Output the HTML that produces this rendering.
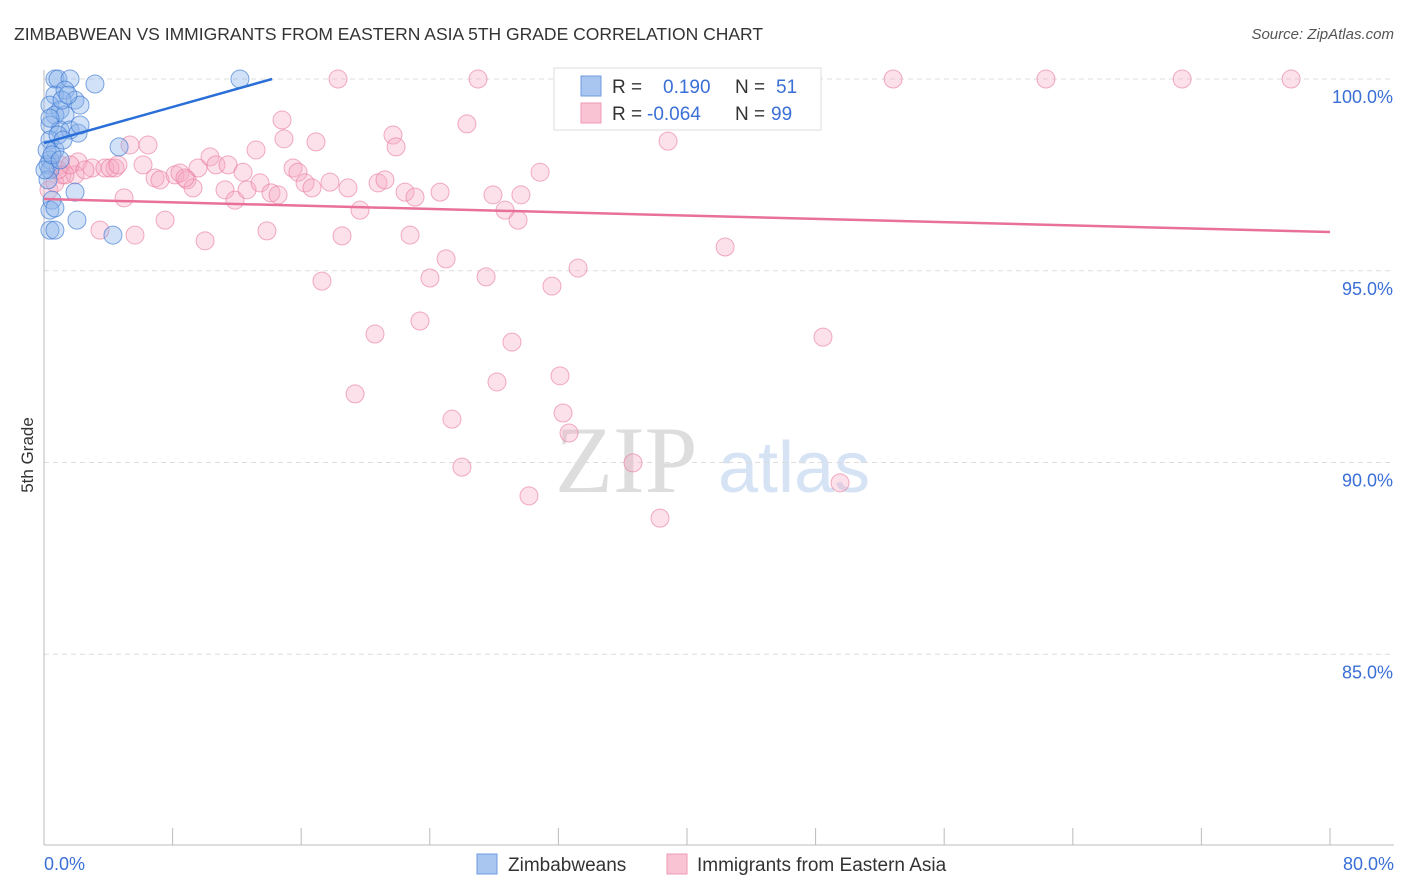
<!DOCTYPE html>
<html><head><meta charset="utf-8"><style>
body{margin:0;background:#fff;font-family:"Liberation Sans",sans-serif}
svg{display:block}
</style></head><body>
<svg id="c" width="1406" height="892">
<text x="14" y="40" font-size="17.5" fill="#333">ZIMBABWEAN VS IMMIGRANTS FROM EASTERN ASIA 5TH GRADE CORRELATION CHART</text>
<text x="1394" y="39" font-size="15" fill="#555" font-style="italic" text-anchor="end">Source: ZipAtlas.com</text>
<text x="33" y="455" font-size="17" fill="#333" text-anchor="middle" transform="rotate(-90 33 455)">5th Grade</text>
<text x="555" y="492" font-size="95" fill="#ddd" font-family="Liberation Serif,serif">ZIP</text>
<text x="718" y="492" font-size="72" fill="#d5e3f5">atlas</text>
<g id="grid"></g><g id="pts"></g><g id="trend"></g>
<g>
<rect x="554" y="68" width="267" height="62" fill="#fff" stroke="#ddd"/>
<rect x="581" y="76" width="20" height="20" fill="#a9c6f0" stroke="#6f9be0"/>
<rect x="581" y="103" width="20" height="20" fill="#f9c3d3" stroke="#ef9ab5"/>
<text x="612" y="93" font-size="19" fill="#333">R = <tspan x="663" fill="#3a6fd6">0.190</tspan></text>
<text x="735" y="93" font-size="19" fill="#333">N = <tspan x="776" fill="#3a6fd6">51</tspan></text>
<text x="612" y="120" font-size="19" fill="#333">R = <tspan x="647" fill="#3a6fd6">-0.064</tspan></text>
<text x="735" y="120" font-size="19" fill="#333">N = <tspan x="771" fill="#3a6fd6">99</tspan></text>
</g>
<g>
<rect x="477" y="854" width="20" height="20" fill="#a9c6f0" stroke="#6f9be0"/>
<text x="508" y="871" font-size="19" fill="#333">Zimbabweans</text>
<rect x="667" y="854" width="20" height="20" fill="#f9c3d3" stroke="#ef9ab5"/>
<text x="697" y="871" font-size="19" fill="#333">Immigrants from Eastern Asia</text>
</g>
<text x="44" y="870" font-size="18" fill="#3a6fd6">0.0%</text>
<text x="1394" y="870" font-size="18" fill="#3a6fd6" text-anchor="end">80.0%</text>
</svg>
<script>
const yTicks=[100,95,90,85];
const yTickLabels=["100.0%","95.0%","90.0%","85.0%"];
const xTicks=[0,8,16,24,32,40,48,56,64,72,80];
const blueX=[0.68,0.87,1.62,3.17,12.19,0.68,1.31,1.93,2.24,0.37,1.0,0.68,1.31,0.37,1.0,1.62,2.12,2.24,0.37,0.68,0.37,0.25,0.37,4.67,0.5,1.93,0.37,0.68,2.05,4.29,0.37,0.68,0.19,1.12,1.49,0.37,0.87,1.18,0.25,0.06,0.5,1.0];
const blueY=[100,100,100,99.87,100,99.58,99.71,99.45,99.32,99.32,99.19,99.06,99.06,98.8,98.67,98.67,98.59,98.8,98.41,98.15,97.89,97.76,97.63,98.23,96.84,97.05,96.58,96.64,96.32,95.93,96.06,96.06,98.15,99.45,99.58,98.98,98.54,98.41,97.37,97.63,98.02,97.89];
const pinkX=[5.35,6.47,1.0,2.12,2.99,3.79,4.42,1.12,1.93,4.98,3.48,5.66,6.16,6.91,7.22,8.15,8.46,8.9,9.27,9.58,10.33,10.7,11.26,11.45,11.88,12.38,12.63,13.19,13.44,13.87,14.12,14.81,14.93,15.49,15.8,16.24,16.67,16.92,17.29,17.79,18.29,18.54,18.91,19.35,19.66,20.59,20.78,21.21,21.71,21.9,22.46,22.77,23.08,23.39,24.01,24.64,25.01,25.38,26.0,26.31,27.0,27.5,27.93,28.18,28.68,29.11,29.49,29.67,30.17,30.86,31.6,32.1,32.29,32.66,33.22,36.64,37.26,38.32,38.82,42.37,42.99,45.79,48.46,49.52,52.82,62.33,70.8,77.58,0.31,0.68,1.31,4.11,7.53,10.02,0.87,1.62,2.55,4.6,14.56,8.77];
const pinkY=[98.28,98.28,97.76,97.84,97.68,97.68,97.68,97.5,97.5,96.9,96.06,95.93,97.76,97.42,97.37,97.5,97.55,97.37,97.16,97.68,97.97,97.76,97.11,97.76,96.84,97.57,97.11,98.15,97.29,96.04,97.03,98.93,98.44,97.68,97.57,97.29,97.16,98.36,94.73,97.31,100,95.91,97.16,91.79,96.58,93.35,97.29,97.37,98.54,98.23,97.05,95.93,96.92,93.69,94.81,97.05,95.31,91.13,89.88,98.83,100,94.84,96.98,92.1,96.58,93.14,96.32,96.98,89.13,97.57,94.6,92.26,91.29,90.77,95.07,89.99,100,88.55,98.38,95.62,100,100,93.27,89.47,100,100,100,100,97.11,97.29,97.5,97.68,96.32,95.78,97.63,97.76,97.63,97.76,96.98,97.42];
const blueTrend=[[0,98.33],[14.19,100]];
const pinkTrend=[[0,96.87],[80,96.01]];
const X=v=>44+v*1286/80;
const Y=v=>79+(100-v)*38.35;
const NS="http://www.w3.org/2000/svg";
function mk(tag,attrs,parent){const e=document.createElementNS(NS,tag);for(const k in attrs)e.setAttribute(k,attrs[k]);parent.appendChild(e);return e;}
const grid=document.getElementById('grid');
yTicks.forEach((t,i)=>{
 const l=mk('line',{x1:44,x2:1394,y1:Y(t),y2:Y(t),stroke:'#ddd','stroke-dasharray':'5,4'},grid);
 
 
 const tx=mk('text',{x:1393,y:Y(t)+24,'font-size':18,fill:'#3a6fd6','text-anchor':'end'},grid);
 tx.textContent=yTickLabels[i];
 
 
});
const ax=mk('line',{x1:44,x2:44,y1:70,y2:845,stroke:'#bbb'},grid);


const bx=mk('line',{x1:44,x2:1394,y1:845,y2:845,stroke:'#bbb'},grid);


xTicks.forEach(t=>{
 const l=mk('line',{x1:X(t),x2:X(t),y1:828,y2:845,stroke:'#bbb'},grid);
 
 
});
const pts=document.getElementById('pts');
pinkX.forEach((v,i)=>{
 const c=mk('circle',{cx:X(v),cy:Y(pinkY[i]),r:9,fill:'rgba(247,170,195,0.35)',stroke:'rgba(232,120,155,0.6)','stroke-width':1},pts);
 
 
});
blueX.forEach((v,i)=>{
 const c=mk('circle',{cx:X(v),cy:Y(blueY[i]),r:9,fill:'rgba(140,180,235,0.4)',stroke:'rgba(60,120,210,0.65)','stroke-width':1},pts);
 
 
});
const tr=document.getElementById('trend');
const bl=mk('line',{x1:X(blueTrend[0][0]),y1:Y(blueTrend[0][1]),x2:X(blueTrend[1][0]),y2:Y(blueTrend[1][1]),stroke:'#2a6fd8','stroke-width':2.5},tr);


const pl=mk('line',{x1:X(pinkTrend[0][0]),y1:Y(pinkTrend[0][1]),x2:X(pinkTrend[1][0]),y2:Y(pinkTrend[1][1]),stroke:'#e8709a','stroke-width':2.5},tr);


</script>
</body></html>
